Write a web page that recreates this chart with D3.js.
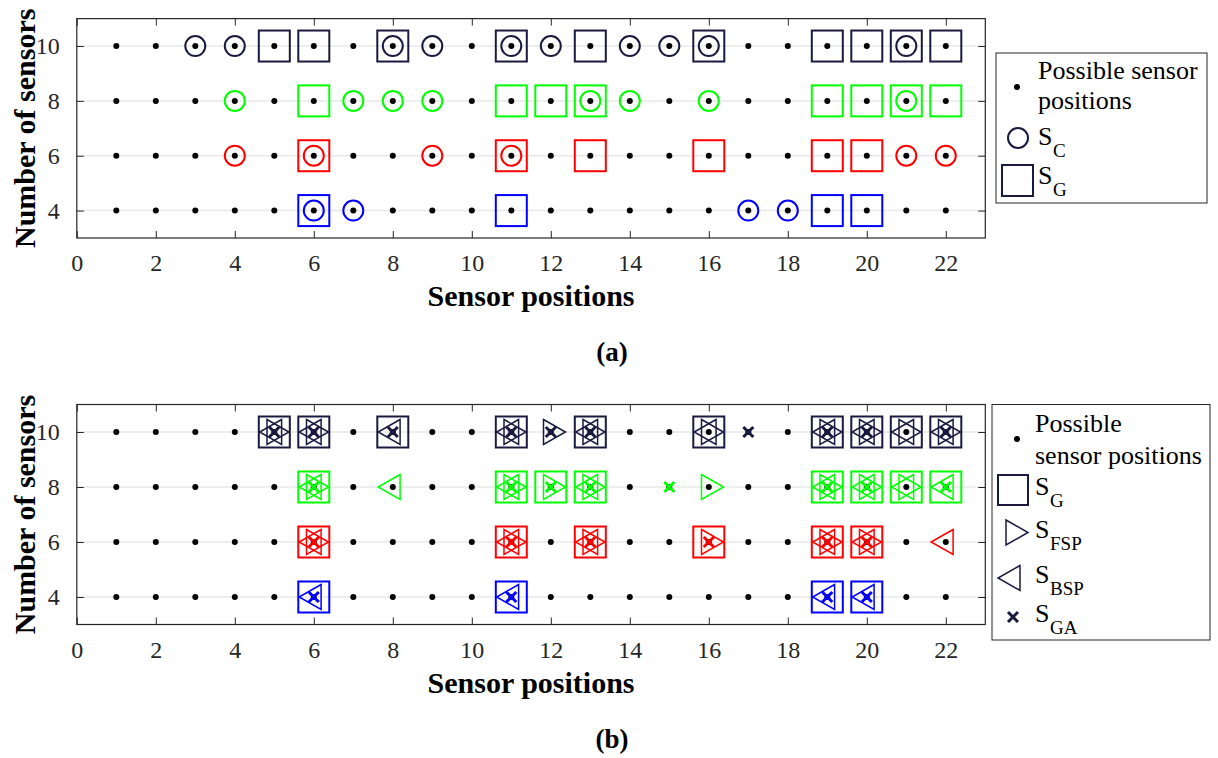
<!DOCTYPE html>
<html>
<head>
<meta charset="utf-8">
<script src="https://cdn.jsdelivr.net/npm/d3@7"></script>
<style>
  body { margin: 0; background: #fff; }
</style>
</head>
<body>
<svg id="chart" width="1218" height="758"></svg>
<script>
// possible sensor grid
var sensorPositions = [1, 2, 3, 4, 5, 6, 7, 8, 9, 10, 11, 12, 13, 14, 15, 16, 17, 18, 19, 20, 21, 22];
var sensorCounts = [4, 6, 8, 10];
var xTicks = [0, 2, 4, 6, 8, 10, 12, 14, 16, 18, 20, 22];
var yTicks = [4, 6, 8, 10];

// panel (a): chosen positions per number of sensors
var scA = {10: [3, 4, 8, 9, 11, 12, 14, 15, 16, 21], 8: [4, 7, 8, 9, 13, 14, 16, 21], 6: [4, 6, 9, 11, 21, 22], 4: [6, 7, 17, 18]};
var sgA = {10: [5, 6, 8, 11, 13, 16, 19, 20, 21, 22], 8: [6, 11, 12, 13, 19, 20, 21, 22], 6: [6, 11, 13, 16, 19, 20], 4: [6, 11, 19, 20]};

// panel (b)
var sgB = {10: [5, 6, 8, 11, 13, 16, 19, 20, 21, 22], 8: [6, 11, 12, 13, 19, 20, 21, 22], 6: [6, 11, 13, 16, 19, 20], 4: [6, 11, 19, 20]};
var sfspB = {10: [5, 6, 11, 12, 13, 16, 19, 20, 21, 22], 8: [6, 11, 12, 13, 16, 19, 20, 21], 6: [6, 11, 13, 16, 19, 20], 4: []};
var sbspB = {10: [5, 6, 8, 11, 13, 16, 19, 20, 21, 22], 8: [6, 8, 11, 13, 19, 20, 21, 22], 6: [6, 11, 13, 19, 20, 22], 4: [6, 11, 19, 20]};
var sgaB = {10: [5, 6, 8, 11, 12, 13, 17, 19, 20, 22], 8: [6, 11, 12, 13, 15, 19, 20, 22], 6: [6, 11, 13, 16, 19, 20], 4: [6, 11, 19, 20]};

var rowColor = {10: "#1a1a40", 8: "#00ff00", 6: "#ff0000", 4: "#0000ff"};
var navy = "#1a1a40", axisColor = "#262626";
var serif = "'Liberation Serif', 'Times New Roman', Times, 'DejaVu Serif', serif";

var svg = d3.select("#chart");

var x = d3.scaleLinear().domain([0, 23]).range([76.8, 985.3]);

// turn {n: [pos..]} into a flat list of points
function flat(obj) {
  var out = [];
  sensorCounts.forEach(function(n) {
    obj[n].forEach(function(p) { out.push({n: n, p: p}); });
  });
  return out;
}

var grid = [];
sensorCounts.forEach(function(n) {
  sensorPositions.forEach(function(p) { grid.push({n: n, p: p}); });
});

var triRight = "M-7.3,-12.5L14.7,0L-7.3,12.5Z";
var triLeft = "M7.3,-12.5L-14.7,0L7.3,12.5Z";
var cross = "M-5,-5L5,5M-5,5L5,-5";

function drawAxes(top, bottom, labelTag) {
  var y = d3.scaleLinear().domain([3, 11]).range([bottom, top]);
  var g = svg.append("g");

  // grid lines
  g.selectAll(".grid").data(yTicks).enter().append("line")
      .attr("x1", x(0)).attr("x2", x(23))
      .attr("y1", function(d) { return y(d); })
      .attr("y2", function(d) { return y(d); })
      .attr("stroke", "#e8e8e8").attr("stroke-width", 1.5);

  // axes (ticks inward on all four sides)
  var ax = function(sel) {
    sel.selectAll(".domain").remove();
    sel.selectAll("line").attr("stroke", axisColor);
    sel.selectAll("text").attr("fill", axisColor).style("font-size", "24px");
  };
  g.append("g").attr("transform", "translate(0," + bottom + ")")
      .call(d3.axisBottom(x).tickValues(xTicks).tickSize(-7).tickPadding(16))
      .call(ax);
  g.append("g").attr("transform", "translate(0," + top + ")")
      .call(d3.axisTop(x).tickValues(xTicks).tickSize(-7).tickFormat(""))
      .call(ax);
  g.append("g").attr("transform", "translate(" + x(0) + ",0)")
      .call(d3.axisLeft(y).tickValues(yTicks).tickSize(-7).tickPadding(17))
      .call(ax);
  g.append("g").attr("transform", "translate(" + x(23) + ",0)")
      .call(d3.axisRight(y).tickValues(yTicks).tickSize(-7).tickFormat(""))
      .call(ax);
  g.append("rect")
      .attr("x", x(0)).attr("y", top)
      .attr("width", x(23) - x(0)).attr("height", bottom - top)
      .attr("fill", "none").attr("stroke", axisColor).attr("stroke-width", 1.2);

  // titles
  g.append("text")
      .attr("x", (x(0) + x(23)) / 2).attr("y", bottom + 68)
      .attr("text-anchor", "middle").attr("font-weight", "bold")
      .style("font-size", "30px").text("Sensor positions");
  g.append("text")
      .attr("transform", "translate(35," + (top + bottom) / 2 + ") rotate(-90)")
      .attr("text-anchor", "middle").attr("font-weight", "bold")
      .style("font-size", "30px").text("Number of sensors");
  g.append("text")
      .attr("x", 612).attr("y", bottom + 123)
      .attr("text-anchor", "middle").attr("font-weight", "bold")
      .style("font-size", "27px").text(labelTag);

  return {g: g, y: y};
}

function dots(g, y) {
  g.selectAll(".dot").data(grid).enter().append("circle")
      .attr("cx", function(d) { return x(d.p); })
      .attr("cy", function(d) { return y(d.n); })
      .attr("r", 3).attr("fill", "#000");
}

function squares(g, y, data) {
  g.selectAll(".sq").data(flat(data)).enter().append("rect")
      .attr("x", function(d) { return x(d.p) - 15.5; })
      .attr("y", function(d) { return y(d.n) - 15.5; })
      .attr("width", 31).attr("height", 31)
      .attr("fill", "none").attr("stroke-width", 2)
      .attr("stroke", function(d) { return rowColor[d.n]; });
}

function paths(g, y, data, shape, width) {
  g.selectAll(".mk").data(flat(data)).enter().append("path")
      .attr("transform", function(d) { return "translate(" + x(d.p) + "," + y(d.n) + ")"; })
      .attr("d", shape)
      .attr("fill", "none").attr("stroke-width", width)
      .attr("stroke-linejoin", "miter")
      .attr("stroke", function(d) { return rowColor[d.n]; });
}

function subLabel(g, x0, base, sub, sizeMain) {
  g.append("text").attr("x", x0).attr("y", base)
      .style("font-size", sizeMain + "px").text("S");
  g.append("text").attr("x", x0 + 15).attr("y", base + 12)
      .style("font-size", "19px").text(sub);
}

// ---- panel (a)
var A = drawAxes(18.6, 238, "(a)");
squares(A.g, A.y, sgA);
A.g.selectAll(".circ").data(flat(scA)).enter().append("circle")
    .attr("cx", function(d) { return x(d.p); })
    .attr("cy", function(d) { return A.y(d.n); })
    .attr("r", 10).attr("fill", "none").attr("stroke-width", 2)
    .attr("stroke", function(d) { return rowColor[d.n]; });
dots(A.g, A.y);

// legend (a)
var la = svg.append("g");
la.append("rect").attr("x", 996).attr("y", 53).attr("width", 211).attr("height", 150)
    .attr("fill", "#fff").attr("stroke", axisColor).attr("stroke-width", 1);
la.append("circle").attr("cx", 1017).attr("cy", 87).attr("r", 3).attr("fill", "#000");
la.append("text").attr("x", 1038).attr("y", 79).style("font-size", "26px").text("Possible sensor");
la.append("text").attr("x", 1038).attr("y", 109).style("font-size", "26px").text("positions");
la.append("circle").attr("cx", 1018).attr("cy", 138).attr("r", 10)
    .attr("fill", "none").attr("stroke", navy).attr("stroke-width", 2);
subLabel(la, 1038, 145, "C", 26);
la.append("rect").attr("x", 1002).attr("y", 165).attr("width", 31).attr("height", 31)
    .attr("fill", "none").attr("stroke", navy).attr("stroke-width", 2);
subLabel(la, 1038, 184, "G", 26);

// ---- panel (b)
var B = drawAxes(404.5, 624.5, "(b)");
dots(B.g, B.y);
squares(B.g, B.y, sgB);
paths(B.g, B.y, sfspB, triRight, 1.5);
paths(B.g, B.y, sbspB, triLeft, 1.5);
paths(B.g, B.y, sgaB, cross, 3);

// legend (b)
var lb = svg.append("g");
lb.append("rect").attr("x", 992).attr("y", 404.5).attr("width", 218).attr("height", 235.5)
    .attr("fill", "#fff").attr("stroke", axisColor).attr("stroke-width", 1);
lb.append("circle").attr("cx", 1017).attr("cy", 439).attr("r", 3).attr("fill", "#000");
lb.append("text").attr("x", 1035).attr("y", 432).style("font-size", "26px").text("Possible");
lb.append("text").attr("x", 1035).attr("y", 464).style("font-size", "26px").text("sensor positions");
lb.append("rect").attr("x", 998).attr("y", 475).attr("width", 30).attr("height", 30)
    .attr("fill", "none").attr("stroke", navy).attr("stroke-width", 2);
subLabel(lb, 1035, 495, "G", 26);
lb.append("path").attr("transform", "translate(1013.3,532.5)").attr("d", triRight)
    .attr("fill", "none").attr("stroke", navy).attr("stroke-width", 1.5);
subLabel(lb, 1035, 538, "FSP", 26);
lb.append("path").attr("transform", "translate(1012.7,578)").attr("d", triLeft)
    .attr("fill", "none").attr("stroke", navy).attr("stroke-width", 1.5);
subLabel(lb, 1035, 583, "BSP", 26);
lb.append("path").attr("transform", "translate(1013,617)").attr("d", cross)
    .attr("fill", "none").attr("stroke", navy).attr("stroke-width", 3);
subLabel(lb, 1035, 622, "GA", 26);

// all text in a Times-like face
svg.selectAll("text").style("font-family", serif);
</script>
</body>
</html>
